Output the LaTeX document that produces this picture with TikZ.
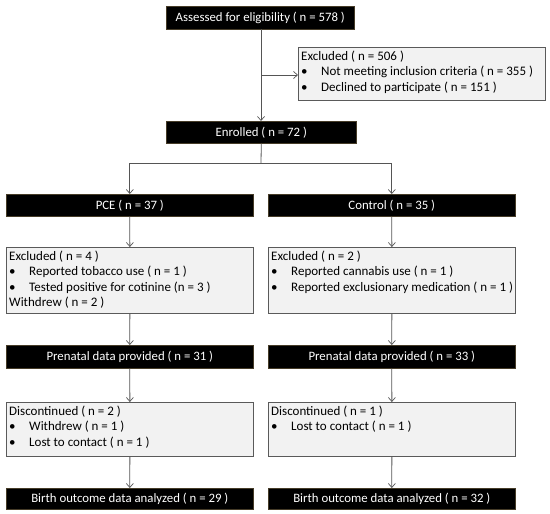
\documentclass[tikz,border=0pt]{standalone}
\usepackage{fontspec}
\setmainfont{Carlito}
\usetikzlibrary{arrows.meta}
\definecolor{lineg}{RGB}{85,85,85}
\definecolor{boxfill}{RGB}{242,242,242}
\definecolor{boxedge}{RGB}{90,90,90}
\definecolor{blkedge}{RGB}{70,60,40}
\tikzset{
  blackbox/.style={draw=blkedge, line width=0.6pt, fill=black, text=white, inner sep=0pt,
    font=\fontsize{12.8}{15}\selectfont, anchor=north west},
  graybox/.style={draw=boxedge, line width=0.8pt, fill=boxfill, inner sep=0pt, anchor=north west},
  boxtext/.style={anchor=north west, align=left, inner sep=0pt,
    font=\fontsize{13}{15.4}\selectfont},
  conn/.style={draw=lineg, line width=0.8pt, -{Straight Barb[length=4pt,width=7pt,line width=0.7pt]}},
  plainconn/.style={draw=lineg, line width=0.8pt},
}
\newcommand{\bul}{\makebox[20pt][l]{\textbullet}}
\begin{document}
\begin{tikzpicture}[x=1pt,y=-1pt]
\useasboundingbox (0,0) rectangle (550,514);
% top
\node[blackbox, minimum width=188pt, minimum height=23pt] (assess) at (166,6) {Assessed for eligibility ( n = 578 )};
\node[graybox, minimum width=247pt, minimum height=53pt] (excl) at (298,47) {};
\node[boxtext] (excltxt) at (301,50.5) {Excluded ( n = 506 )\\\bul Not meeting inclusion criteria ( n = 355 )\\\bul Declined to participate ( n = 151 )};
\node[blackbox, minimum width=190pt, minimum height=22pt] (enroll) at (166,121) {Enrolled ( n = 72 )};
% columns
\node[blackbox, minimum width=247pt, minimum height=22pt] (pce) at (6,194) {PCE ( n = 37 )};
\node[blackbox, minimum width=247pt, minimum height=22pt] (ctrl) at (268,194) {Control ( n = 35 )};
\node[graybox, minimum width=247pt, minimum height=66pt] (pceexc) at (6,247) {};
\node[boxtext] (pceexctxt) at (9,250.5) {Excluded ( n = 4 )\\\bul Reported tobacco use ( n = 1 )\\\bul Tested positive for cotinine (n = 3 )\\Withdrew ( n = 2 )};
\node[graybox, minimum width=247pt, minimum height=66pt] (ctrlexc) at (268,247) {};
\node[boxtext] (ctrlexctxt) at (271,250.5) {Excluded ( n = 2 )\\\bul Reported cannabis use ( n = 1 )\\\bul Reported exclusionary medication ( n = 1 )};
\node[blackbox, minimum width=247pt, minimum height=23pt] (pcepre) at (6,345) {Prenatal data provided ( n = 31 )};
\node[blackbox, minimum width=247pt, minimum height=23pt] (ctrlpre) at (268,345) {Prenatal data provided ( n = 33 )};
\node[graybox, minimum width=247pt, minimum height=54pt] (pcedisc) at (6,402) {};
\node[boxtext] (pcedisctxt) at (9,405.5) {Discontinued ( n = 2 )\\\bul Withdrew ( n = 1 )\\\bul Lost to contact ( n = 1 )};
\node[graybox, minimum width=247pt, minimum height=54pt] (ctrldisc) at (268,402) {};
\node[boxtext] (ctrldisctxt) at (271,405.5) {Discontinued ( n = 1 )\\\bul Lost to contact ( n = 1 )};
\node[blackbox, minimum width=247pt, minimum height=21pt] (pcebirth) at (6,488) {Birth outcome data analyzed ( n = 29 )};
\node[blackbox, minimum width=247pt, minimum height=21pt] (ctrlbirth) at (268,488) {Birth outcome data analyzed ( n = 32 )};
% connectors
\coordinate (j1) at (261,75);
\coordinate (j2) at (261,163);
\draw[conn] (261,29) -- (261,121);
\draw[conn] (j1) -- (excl.west |- j1);
\draw[plainconn] (enroll.south) -- (j2);
\draw[conn] (j2) -- (pce.north |- j2) -- (pce.north);
\draw[conn] (j2) -- (ctrl.north |- j2) -- (ctrl.north);
\draw[conn] (pce) -- (pceexc);
\draw[conn] (ctrl) -- (ctrlexc);
\draw[conn] (pceexc) -- (pcepre);
\draw[conn] (ctrlexc) -- (ctrlpre);
\draw[conn] (pcepre) -- (pcedisc);
\draw[conn] (ctrlpre) -- (ctrldisc);
\draw[conn] (pcedisc) -- (pcebirth);
\draw[conn] (ctrldisc) -- (ctrlbirth);
\end{tikzpicture}
\end{document}
